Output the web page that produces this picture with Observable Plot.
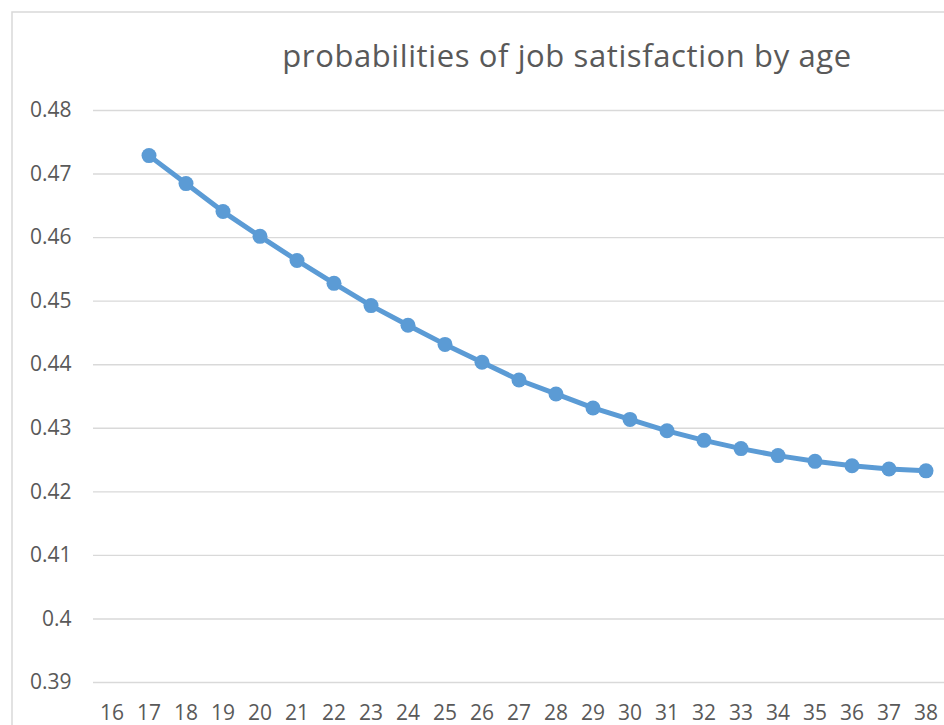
<!DOCTYPE html>
<html>
<head>
<meta charset="utf-8">
<script src="https://cdn.jsdelivr.net/npm/d3@7"></script>
<script src="https://cdn.jsdelivr.net/npm/@observablehq/plot@0.6"></script>
<style>
  html, body { margin: 0; padding: 0; background: #fff; overflow: hidden; }
  #chart svg { display: block; }
  #chart svg .title-text text { letter-spacing: 0.6px; }
</style>
</head>
<body>
<div id="chart"></div>
<script>
const title = "probabilities of job satisfaction by age";
const ages = [17, 18, 19, 20, 21, 22, 23, 24, 25, 26, 27, 28, 29, 30, 31, 32, 33, 34, 35, 36, 37, 38];
const probs = [0.4729, 0.4685, 0.4641, 0.4602, 0.4564, 0.4528, 0.4493, 0.4462, 0.4432, 0.4404, 0.4376, 0.4354, 0.4332, 0.4314, 0.4296, 0.4281, 0.4268, 0.4257, 0.4248, 0.4241, 0.4236, 0.4233];
const xTicks = [16, 17, 18, 19, 20, 21, 22, 23, 24, 25, 26, 27, 28, 29, 30, 31, 32, 33, 34, 35, 36, 37, 38];
const yTicks = [0.39, 0.40, 0.41, 0.42, 0.43, 0.44, 0.45, 0.46, 0.47, 0.48];

const data = ages.map((a, i) => ({age: a, p: probs[i]}));
const blue = "#5b9bd5";
const grey = "#595959";

const chart = Plot.plot({
  width: 944,
  height: 725,
  marginLeft: 93,
  marginRight: 0,
  marginTop: 110,
  marginBottom: 43,
  style: {fontFamily: "'Open Sans', sans-serif", fontSize: "21px", color: grey, background: "#fff", overflow: "hidden"},
  x: {domain: [xTicks[0] - 0.5, xTicks[xTicks.length - 1] + 0.5], ticks: xTicks, tickFormat: d => String(d)},
  y: {domain: [yTicks[0], yTicks[yTicks.length - 1]], ticks: yTicks, tickFormat: d => String(+d.toFixed(2))},
  marks: [
    Plot.frame({stroke: "#d9d9d9", strokeWidth: 1.5, insetLeft: -81.5, insetTop: -98.5, insetRight: -20, insetBottom: -60}),
    Plot.ruleY(yTicks, {stroke: "#d9d9d9", strokeWidth: 1.4}),
    Plot.axisY({ticks: yTicks, tickSize: 0, tickPadding: 22, fill: grey, fontSize: 21, label: null, tickFormat: d => String(+d.toFixed(2))}),
    Plot.axisX({ticks: xTicks, tickSize: 0, tickPadding: 23, fill: grey, fontSize: 21, label: null, tickFormat: d => String(d)}),
    Plot.line(data, {x: "age", y: "p", stroke: blue, strokeWidth: 5, strokeLinejoin: "round"}),
    Plot.dot(data, {x: "age", y: "p", r: 7.5, fill: blue, stroke: null}),
    Plot.text([title], {frameAnchor: "top", dx: 48, dy: -53, lineAnchor: "middle", fontSize: 31, fill: grey, fontWeight: 400, className: "title-text"})
  ]
});
document.getElementById("chart").appendChild(chart);
</script>
</body>
</html>
